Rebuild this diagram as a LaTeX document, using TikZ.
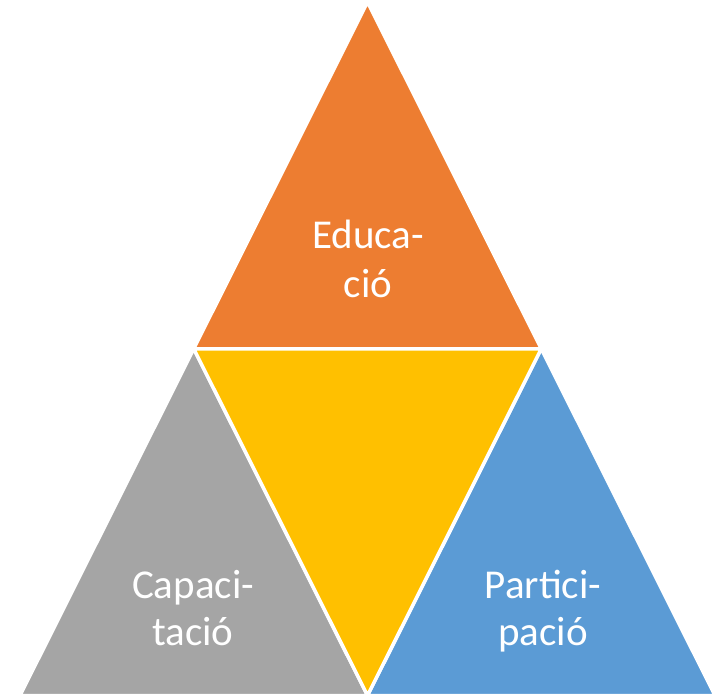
\documentclass[tikz,border=0pt]{standalone}
\usepackage{fontspec}
\setmainfont{Carlito}
\usetikzlibrary{calc}
\definecolor{cOrange}{HTML}{ED7D31}
\definecolor{cYellow}{HTML}{FFC000}
\definecolor{cGrey}{HTML}{A5A5A5}
\definecolor{cBlue}{HTML}{5B9BD5}
\tikzset{
  tri/.style={draw=white, line width=3.5pt, line join=miter},
  lbl/.style={text=white, inner sep=0pt, anchor=base, font=\fontsize{41pt}{48pt}\selectfont}
}
\begin{document}
\begin{tikzpicture}[x=1pt,y=-1pt]
\useasboundingbox (0,0) rectangle (715,696);
\fill[white] (0,0) rectangle (715,696);
\coordinate (A) at (367.5,2);
\coordinate (B) at (20,695.5);
\coordinate (C) at (715,695.5);
\coordinate (L) at ($(A)!0.5!(B)$);
\coordinate (R) at ($(A)!0.5!(C)$);
\coordinate (M) at ($(B)!0.5!(C)$);
\filldraw[tri, fill=cOrange] (A) -- (L) -- (R) -- cycle;
\filldraw[tri, fill=cGrey] (L) -- (B) -- (M) -- cycle;
\filldraw[tri, fill=cBlue] (R) -- (M) -- (C) -- cycle;
\filldraw[tri, fill=cYellow] (L) -- (R) -- (M) -- cycle;
\node[lbl] (e1) at (368,248) {Educa-};
\node[lbl] (e2) at (368,297) {ció};
\node[lbl] (c1) at (193,598) {Capaci-};
\node[lbl] (c2) at (193,645) {tació};
\node[lbl] (p1) at (543,598) {Partici-};
\node[lbl] (p2) at (543,645) {pació};
\end{tikzpicture}
\end{document}
